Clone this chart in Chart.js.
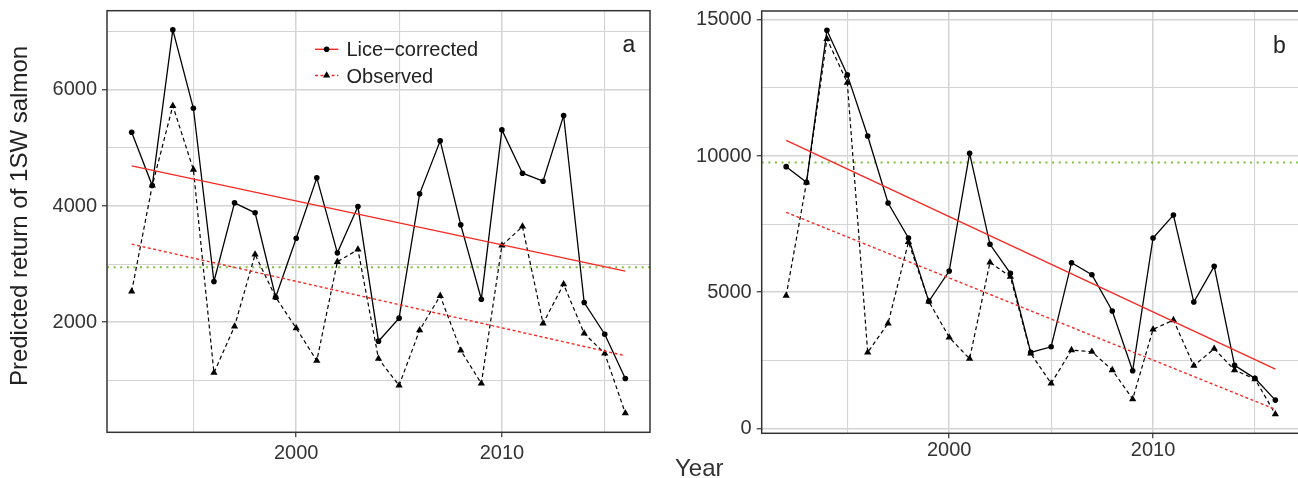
<!DOCTYPE html>
<html><head><meta charset="utf-8">
<script src="https://cdn.jsdelivr.net/npm/chart.js@4.4.1/dist/chart.umd.min.js"></script>
<style>
html,body{margin:0;padding:0;background:#fff;overflow:hidden;width:1298px;height:478px;}
#wa{position:absolute;left:0;top:0;width:660px;height:478px;}
#wb{position:absolute;left:640px;top:0;width:664px;height:478px;}
#year{position:absolute;left:675px;top:456px;font:24px "Liberation Sans",Arial,sans-serif;line-height:24px;color:#333;white-space:nowrap;}
</style></head>
<body>
<div id="wa"><canvas id="ca" width="660" height="478"></canvas></div>
<div id="wb"><canvas id="cb" width="664" height="478"></canvas></div>
<div id="year">Year</div>
<script>
// ---------- data ----------
const years = [1992,1993,1994,1995,1996,1997,1998,1999,2000,2001,2002,2003,2004,2005,2006,2007,2008,2009,2010,2011,2012,2013,2014,2015,2016];

// panel a
const liceA = [5270,4353,7033,5683,2700,4055,3883,2430,3446,4485,3194,3991,1673,2069,4210,5122,3676,2396,5311,4565,4427,5558,2339,1793,1031];
const obsA  = [2528,4353,5725,4628,1129,1926,3165,2430,1897,1336,3040,3251,1370,910,1862,2454,1513,945,3320,3647,1978,2654,1806,1461,434];
// panel b
const liceB = [9611,9037,14622,12980,10739,8277,6991,4666,5779,10103,6760,5694,2792,2998,6084,5643,4309,2116,6991,7836,4640,5951,2314,1837,1040];
const obsB  = [4871,9037,14302,12697,2792,3857,6844,4666,3343,2557,6098,5569,2755,1653,2877,2814,2142,1076,3637,3979,2300,2924,2142,1811,525];

// fitted trend lines (endpoints at first and last year)
const trendYears  = [1992, 2016];
const trendLiceA  = [4692, 2878];
const trendObsA   = [3343, 1422];
const trendLiceB  = [10580, 2179];
const trendObsB   = [7935, 700];

// reference (green dotted) levels
const refA = 2947;
const refB = 9760;

// ticks
const xMajor = [2000, 2010];
const xMinor = [1995, 2005, 2015];
const yMajorA = [2000, 4000, 6000];
const yMinorA = [1000, 3000, 5000, 7000];
const yMajorB = [0, 5000, 10000, 15000];
const yMinorB = [2500, 7500, 12500];

const seriesNames = ['Lice\u2212corrected', 'Observed'];
const yTitle = 'Predicted return of 1SW salmon';

// ---------- helpers ----------
Chart.defaults.font.family = '"Liberation Sans", Arial, Helvetica, sans-serif';
Chart.defaults.color = '#333';

const FONT = '"Liberation Sans", Arial, Helvetica, sans-serif';
const RED = '#f52a24';
const GREEN = '#7fbf3a';

function pts(xs, ys){ return xs.map((x,i)=>({x:x, y:ys[i]})); }

function makeDatasets(lice, obs, tl, to){
  return [
    {data: pts(trendYears, tl), borderColor: RED, borderWidth: 1.4, pointRadius: 0, order: 0},
    {data: pts(trendYears, to), borderColor: RED, borderWidth: 1.4, borderDash: [3,2.5], pointRadius: 0, order: 1},
    {data: pts(years, lice), borderColor: '#000', borderWidth: 1.3, pointRadius: 2.8, pointStyle: 'circle',
     pointBackgroundColor: '#000', pointBorderWidth: 0, order: 2},
    {data: pts(years, obs), borderColor: '#000', borderWidth: 1.2, borderDash: [4,3], pointRadius: 4.2, pointStyle: 'triangle',
     pointBackgroundColor: '#000', pointBorderColor: '#000', pointBorderWidth: 0, order: 3}
  ];
}

function axisGrid(major){
  return {
    color: (c)=> '#d4d4d4',
    lineWidth: (c)=> major.includes(c.tick && c.tick.value) ? 1.5 : 1.1,
    tickColor: (c)=> major.includes(c.tick && c.tick.value) ? '#333' : 'rgba(0,0,0,0)',
    tickWidth: 1.2,
    tickLength: 5,
    drawTicks: true
  };
}

function panelPlugin(opt){
  return {
    id: 'panel_' + opt.letter,
    beforeDatasetsDraw(chart){
      const ctx = chart.ctx, ca = chart.chartArea, y = chart.scales.y.getPixelForValue(opt.ref);
      ctx.save();
      ctx.strokeStyle = GREEN; ctx.lineWidth = 2; ctx.setLineDash([2,4.6]);
      ctx.beginPath(); ctx.moveTo(ca.left, y); ctx.lineTo(ca.right, y); ctx.stroke();
      ctx.restore();
    },
    afterDraw(chart){
      const ctx = chart.ctx, ca = chart.chartArea;
      ctx.save();
      // frame
      ctx.strokeStyle = '#333'; ctx.lineWidth = 1.5;
      ctx.strokeRect(ca.left, ca.top, ca.right - ca.left, ca.bottom - ca.top);
      // panel letter
      ctx.fillStyle = '#222'; ctx.font = '23px ' + FONT; ctx.textAlign = 'center'; ctx.textBaseline = 'alphabetic';
      ctx.fillText(opt.letter, ca.right - opt.letterDx, ca.top + 41.5);
      if (opt.legend){
        const lx0 = 315, lx1 = 338.3, ly1 = 49.3, ly2 = 75.5, tx = 346.5;
        ctx.lineWidth = 1.4; ctx.strokeStyle = RED;
        ctx.beginPath(); ctx.moveTo(lx0, ly1); ctx.lineTo(lx1, ly1); ctx.stroke();
        ctx.setLineDash([3,2.5]);
        ctx.beginPath(); ctx.moveTo(lx0, ly2); ctx.lineTo(lx1, ly2); ctx.stroke();
        ctx.setLineDash([]);
        ctx.fillStyle = '#000';
        const mx = (lx0+lx1)/2;
        ctx.beginPath(); ctx.arc(mx, ly1, 2.8, 0, Math.PI*2); ctx.fill();
        const r = 4.2;
        ctx.beginPath();
        ctx.moveTo(mx, ly2 - r);
        ctx.lineTo(mx + r*Math.cos(Math.PI/6), ly2 + r*0.5);
        ctx.lineTo(mx - r*Math.cos(Math.PI/6), ly2 + r*0.5);
        ctx.closePath(); ctx.fill();
        ctx.fillStyle = '#222'; ctx.font = '20px ' + FONT; ctx.textAlign = 'left';
        ctx.fillText(seriesNames[0], tx, 55.5);
        ctx.fillText(seriesNames[1], tx, 82.5);
      }
      if (opt.ytitle){
        ctx.translate(27.2, 216);
        ctx.rotate(-Math.PI/2);
        ctx.fillStyle = '#222'; ctx.font = '24px ' + FONT; ctx.textAlign = 'center'; ctx.textBaseline = 'alphabetic';
        ctx.fillText(yTitle, 0, 0);
      }
      ctx.restore();
    }
  };
}

function makeChart(id, o){
  return new Chart(document.getElementById(id), {
    type: 'line',
    data: { datasets: makeDatasets(o.lice, o.obs, o.tl, o.to) },
    options: {
      responsive: false, animation: false,
      layout: { padding: { left: 0, right: o.padRight, top: o.padTop, bottom: 0 } },
      plugins: { legend: {display:false}, tooltip: {enabled:false} },
      elements: { line: { tension: 0, fill: false } },
      scales: {
        x: {
          type: 'linear', min: 1990.8, max: 2017.2,
          border: { display: false },
          grid: axisGrid(xMajor),
          afterBuildTicks: (s)=>{ s.ticks = xMinor.concat(xMajor).sort((a,b)=>a-b).map(v=>({value:v})); },
          ticks: { autoSkip: false, maxRotation: 0, padding: o.xpad, color: '#333', font: { size: 20 },
                   callback: (v)=> xMajor.includes(v) ? String(v) : '' },
          afterFit: (s)=>{ s.height = o.xh; s.paddingLeft = 0; s.paddingRight = 0; s.paddingTop = 0; s.paddingBottom = 0; }
        },
        y: {
          type: 'linear', min: o.ymin, max: o.ymax,
          border: { display: false },
          grid: axisGrid(o.yMajor),
          afterBuildTicks: (s)=>{ s.ticks = o.yMinor.concat(o.yMajor).sort((a,b)=>a-b).map(v=>({value:v})); },
          ticks: { autoSkip: false, padding: 5, color: '#333', font: { size: 20 },
                   callback: (v)=> o.yMajor.includes(v) ? String(v) : '' },
          afterFit: (s)=>{ s.width = o.yw; s.paddingLeft = 0; s.paddingRight = 0; s.paddingTop = 0; s.paddingBottom = 0; }
        }
      }
    },
    plugins: [panelPlugin(o.panel)]
  });
}

makeChart('ca', {
  lice: liceA, obs: obsA, tl: trendLiceA, to: trendObsA,
  ymin: 104, ymax: 7363, yMajor: yMajorA, yMinor: yMinorA,
  yw: 107, xh: 45.7, padTop: 10.7, padRight: 10, xpad: 4,
  panel: { letter: 'a', ref: refA, letterDx: 21, legend: true, ytitle: true }
});
makeChart('cb', {
  lice: liceB, obs: obsB, tl: trendLiceB, to: trendObsB,
  ymin: -180, ymax: 15327, yMajor: yMajorB, yMinor: yMinorB,
  yw: 121.7, xh: 44.7, padTop: 11, padRight: 1, xpad: 0,
  panel: { letter: 'b', ref: refB, letterDx: 20.3, legend: false, ytitle: false }
});
</script>
</body></html>
